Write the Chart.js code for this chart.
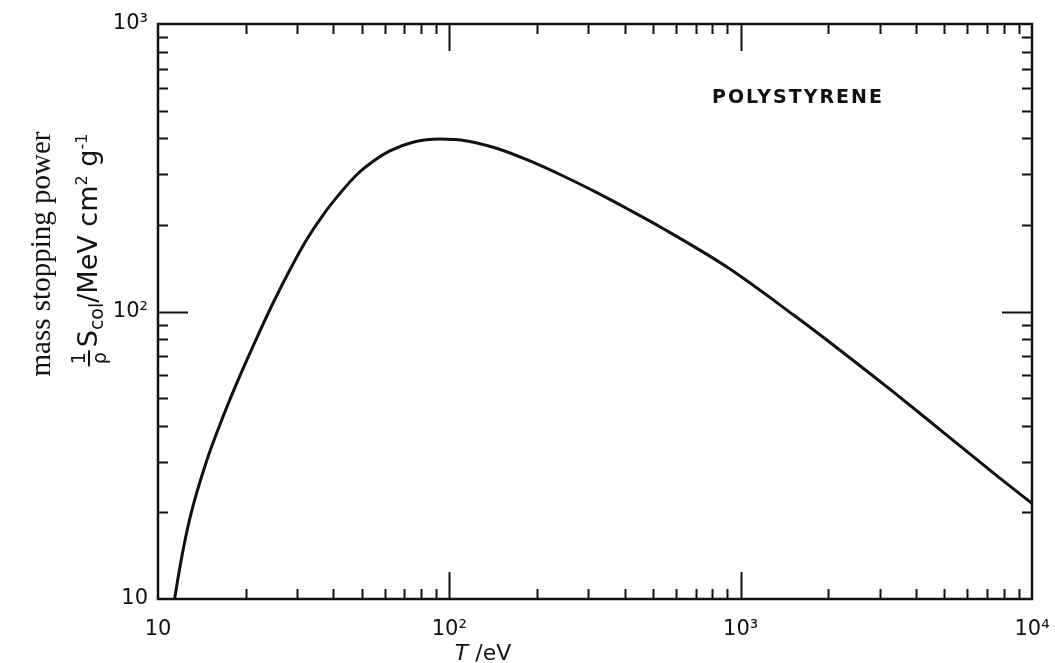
<!DOCTYPE html>
<html>
<head>
<meta charset="utf-8">
<script src="https://cdn.jsdelivr.net/npm/chart.js@4"></script>
<style>
  body { margin: 0; background: #fff; }
  #wrap { position: relative; width: 1055px; height: 663px; }
  #chart { position: absolute; left: 0; top: 0; }
  .rot { position: absolute; white-space: nowrap; transform: translate(-50%, -50%) rotate(-90deg); color: #111; }
  #ylab1 { left: 40px; top: 254px; font-family: "Liberation Serif", serif; font-size: 29px; }
  #ylab2 { left: 89px; top: 250px; font-family: "DejaVu Sans", sans-serif; font-size: 27px; }
  .frac { display: inline-block; vertical-align: middle; text-align: center; font-size: 19px; line-height: 1; margin-right: 3px; }
  .frac span { display: block; }
  .frac .num { border-bottom: 2px solid #111; padding: 0 2px; }
  #ylab2 sub { font-size: 19px; }
  #ylab2 sup { font-size: 16px; }
  #label { position: absolute; left: 712px; top: 85px; font-family: "DejaVu Sans", sans-serif; font-weight: bold; font-size: 19px; letter-spacing: 2px; color: #111; }
  #xlab { position: absolute; left: 483px; top: 652px; transform: translate(-50%, -50%); white-space: nowrap; font-family: "DejaVu Sans", sans-serif; font-size: 22px; color: #111; }
</style>
</head>
<body>
<div id="wrap">
  <canvas id="chart" width="1055" height="663"></canvas>
  <div class="rot" id="ylab1">mass stopping power</div>
  <div class="rot" id="ylab2"><span class="frac"><span class="num">1</span><span class="den">ρ</span></span>S<sub>col</sub>/MeV cm<sup>2</sup> g<sup>-1</sup></div>
  <div id="label">POLYSTYRENE</div>
  <div id="xlab"><i>T</i> /eV</div>
</div>
<script>
// electron energy T (eV) and mass collision stopping power (MeV cm2 g-1)
const energy = [11.4, 12.0, 12.9, 14.7, 16.8, 19.1, 21.8, 24.9, 28.4, 32.4, 36.9, 42.2, 48.1, 54.8, 62.5, 75, 93, 115, 146, 189, 246, 321, 417, 543, 895, 1520, 2250, 3350, 4960, 7380, 10000];
const stopping = [10, 13.6, 19.3, 30.3, 43.6, 59.7, 80.7, 107.7, 140, 178, 217, 258, 299, 333, 362, 388, 398, 392, 369, 334, 296, 259, 225, 194, 143, 97.2, 71.9, 52.4, 38.0, 27.4, 21.5];

const xTicks = [10, 100, 1000, 10000];
const yTicks = [10, 100, 1000];
const tickText = { 10: '10', 100: '10²', 1000: '10³', 10000: '10⁴' };

const points = energy.map((t, i) => ({ x: t, y: stopping[i] }));

// inward ticks on all four sides plus the frame
const frameTicks = {
  id: 'frameTicks',
  afterDraw(chart) {
    const { ctx, chartArea: a, scales } = chart;
    ctx.save();
    ctx.strokeStyle = '#111';
    ctx.lineWidth = 2;
    ctx.beginPath();
    [10, 100, 1000].forEach(d => {
      for (let m = 1; m <= 9; m++) {
        const v = m * d;
        if (v === 10) continue;
        const px = Math.round(scales.x.getPixelForValue(v)) + 0.5;
        const len = m === 1 ? 27 : 10;
        ctx.moveTo(px, a.bottom); ctx.lineTo(px, a.bottom - len);
        ctx.moveTo(px, a.top); ctx.lineTo(px, a.top + len);
      }
    });
    [10, 100].forEach(d => {
      for (let m = 1; m <= 9; m++) {
        const v = m * d;
        if (v === 10) continue;
        const py = Math.round(scales.y.getPixelForValue(v)) + 0.5;
        const len = m === 1 ? 30 : 10;
        ctx.moveTo(a.left, py); ctx.lineTo(a.left + len, py);
        ctx.moveTo(a.right, py); ctx.lineTo(a.right - len, py);
      }
    });
    ctx.stroke();
    ctx.lineWidth = 2.5;
    ctx.strokeRect(a.left, a.top, a.right - a.left, a.bottom - a.top);
    ctx.restore();
  }
};

new Chart(document.getElementById('chart'), {
  type: 'line',
  data: {
    datasets: [{
      data: points,
      borderColor: '#111',
      borderWidth: 3,
      pointRadius: 0,
      cubicInterpolationMode: 'monotone',
      fill: false
    }]
  },
  options: {
    responsive: false,
    animation: false,
    layout: { padding: { top: 24, right: 23, left: 0, bottom: 0 } },
    plugins: { legend: { display: false }, tooltip: { enabled: false } },
    scales: {
      x: {
        type: 'logarithmic',
        min: 10, max: 10000,
        afterBuildTicks: s => { s.ticks = xTicks.map(v => ({ value: v })); },
        afterFit: s => { s.height = 64; s.paddingLeft = 0; s.paddingRight = 0; },
        grid: { display: false, drawTicks: false },
        border: { display: false },
        ticks: {
          padding: 18,
          color: '#111',
          maxRotation: 0,
          autoSkip: false,
          font: { family: 'DejaVu Sans', size: 21 },
          callback: v => tickText[v]
        }
      },
      y: {
        type: 'logarithmic',
        min: 10, max: 1000,
        afterBuildTicks: s => { s.ticks = yTicks.map(v => ({ value: v })); },
        afterFit: s => { s.width = 158; s.paddingTop = 0; s.paddingBottom = 0; },
        grid: { display: false, drawTicks: false },
        border: { display: false },
        ticks: {
          padding: 10,
          color: '#111',
          autoSkip: false,
          font: { family: 'DejaVu Sans', size: 21 },
          callback: v => tickText[v]
        }
      }
    }
  },
  plugins: [frameTicks]
});
</script>
</body>
</html>
